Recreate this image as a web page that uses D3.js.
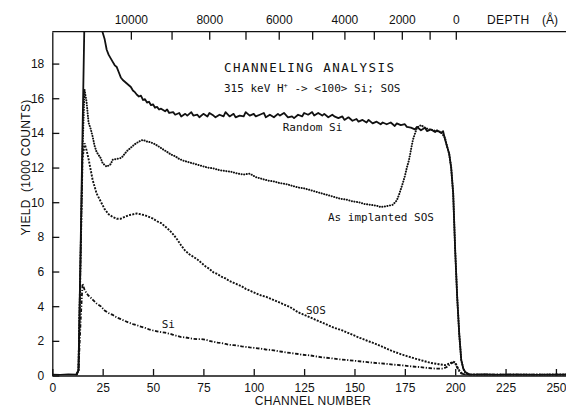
<!DOCTYPE html>
<html>
<head>
<meta charset="utf-8">
<script src="https://cdn.jsdelivr.net/npm/d3@7"></script>
<style>
  body { margin: 0; background: #fff; }
  svg { display: block; }
  text { fill: #111; }
</style>
</head>
<body>
<figure id="chart" style="margin:0"></figure>
<script>
// channel / yield (1000 counts) pairs
const randomSi = [
  [0,0.05],[4,0.04],[8,0.06],[12,0.05],[13,0.3],[14,7.0],[15,14.0],[16,20.8],[18,21.5],[20,21.4],
  [22,20.8],[24,20.0],[25,19.8],[26,19.4],[27,18.8],[28,18.5],[29,18.3],[30,18.1],[31,17.9],[32,17.8],
  [33,17.5],[34,17.2],[35,17.05],[36,16.95],[37,16.85],[38,16.75],[39,16.65],[40,16.45],[41,16.35],
  [42,16.2],[43,16.1],[44,16.15],[45,15.9],[46,15.95],[47,15.75],[48,15.8],[49,15.6],[50,15.65],
  [51,15.45],[52,15.5],[53,15.35],[54,15.4],[56,15.25],[57,15.35],[58,15.15],[60,15.2],[61,15.05],
  [63,15.15],[64,14.95],[66,15.1],[67,15.0],[69,15.2],[70,15.0],[72,15.05],[73,14.9],[75,15.1],
  [77,14.95],[78,15.15],[80,15.0],[81,14.9],[83,15.05],[85,14.95],[86,15.2],[88,14.95],[90,15.1],
  [91,14.9],[93,15.0],[95,14.95],[96,15.2],[98,15.0],[100,15.1],[101,14.95],[103,15.05],[105,15.15],
  [106,14.9],[108,15.05],[110,14.9],[112,15.1],[113,15.0],[115,15.15],[117,14.9],[119,14.95],
  [120,14.85],[122,15.05],[124,14.95],[125,15.15],[127,15.05],[129,15.2],[130,15.0],[132,15.15],
  [134,15.0],[135,15.1],[137,14.9],[139,15.05],[140,14.95],[142,14.85],[144,14.95],[145,14.75],
  [147,14.9],[149,14.7],[151,14.8],[152,14.65],[154,14.75],[156,14.6],[157,14.75],[159,14.55],
  [161,14.65],[163,14.5],[164,14.6],[166,14.5],[168,14.6],[170,14.4],[171,14.55],[173,14.45],
  [175,14.5],[176,14.35],[178,14.3],[180,14.2],[181,14.35],[183,14.15],[185,14.3],[186,14.1],
  [188,14.2],[190,14.05],[191,14.15],[193,14.0],[194,14.1],[195,13.6],[196,13.2],[197,12.8],
  [198,12.0],[199,10.5],[200,7.2],[201,4.5],[202,2.4],[203,0.9],[204,0.4],[205,0.2],[207,0.07],
  [210,0.05],[215,0.06],[220,0.04],[230,0.05],[240,0.04],[250,0.05],[255,0.05]
];

const asImplanted = [
  [12,0.05],[13,0.3],[14,6.5],[15,13.0],[16,16.5],[17,15.8],[18,14.6],[19,14.25],[20,13.8],
  [21,13.25],[22,12.9],[24,12.55],[25,12.25],[27,12.05],[29,12.2],[30,12.45],[32,12.5],[34,12.55],
  [35,12.65],[37,12.95],[39,13.15],[41,13.35],[43,13.5],[45,13.6],[47,13.5],[49,13.45],[51,13.35],
  [53,13.2],[55,13.05],[57,12.9],[59,12.75],[61,12.65],[63,12.5],[65,12.4],[68,12.3],[71,12.2],
  [74,12.1],[77,12.0],[80,11.95],[83,11.85],[86,11.8],[89,11.75],[92,11.65],[95,11.6],[98,11.65],
  [101,11.45],[104,11.35],[107,11.25],[110,11.2],[113,11.1],[116,11.05],[119,10.95],[122,10.85],
  [125,10.8],[128,10.7],[131,10.6],[134,10.5],[137,10.4],[140,10.3],[143,10.2],[146,10.15],
  [149,10.05],[152,10.0],[155,9.9],[158,9.85],[161,9.8],[163,9.72],[165,9.75],[167,9.8],[169,9.85],
  [171,10.1],[172,10.4],[173,10.75],[174,11.1],[175,11.5],[176,12.0],[177,12.4],[178,13.0],
  [179,13.6],[180,13.95],[181,14.3],[183,14.45],[185,14.3],[187,14.2],[189,14.15],[191,14.1],
  [193,14.05],[195,13.7],[196,13.2],[197,12.8],[198,12.0],[199,10.5],[200,7.2],[201,4.5],[202,2.4],
  [203,0.9],[204,0.4],[205,0.15],[207,0.05],[255,0.05]
];

const sos = [
  [12,0.05],[13,0.3],[14,6.5],[15,12.5],[16,13.4],[17,13.0],[18,12.5],[19,11.9],[20,11.3],
  [21,10.9],[22,10.5],[24,10.05],[26,9.6],[28,9.3],[30,9.15],[32,9.05],[34,9.05],[36,9.15],
  [38,9.25],[40,9.3],[42,9.35],[44,9.3],[46,9.25],[48,9.15],[50,9.05],[52,8.9],[54,8.8],[56,8.6],
  [58,8.4],[60,8.15],[62,7.85],[64,7.5],[66,7.2],[68,7.0],[70,6.85],[72,6.7],[74,6.5],[76,6.3],
  [78,6.15],[80,5.95],[82,5.85],[84,5.7],[86,5.6],[88,5.45],[90,5.35],[92,5.25],[94,5.15],
  [96,5.0],[98,4.9],[100,4.8],[102,4.7],[104,4.6],[106,4.55],[108,4.45],[110,4.35],[112,4.25],
  [114,4.15],[116,4.05],[118,3.95],[120,3.8],[122,3.65],[124,3.55],[126,3.45],[128,3.35],
  [130,3.25],[132,3.15],[134,3.05],[136,2.95],[138,2.85],[140,2.75],[144,2.6],[148,2.4],[152,2.2],
  [156,2.02],[160,1.85],[164,1.65],[168,1.45],[172,1.27],[176,1.12],[180,0.98],[184,0.85],
  [188,0.72],[192,0.65],[195,0.6],[197,0.68],[199,0.8],[200,0.75],[201,0.5],[202,0.3],[203,0.15],
  [204,0.08],[206,0.05],[255,0.05]
];

const si = [
  [12,0.05],[13,0.3],[14,3.0],[15,5.3],[16,4.95],[17,4.75],[18,4.6],[19,4.5],[20,4.38],[22,4.15],
  [24,4.0],[26,3.75],[28,3.6],[30,3.5],[32,3.35],[34,3.25],[36,3.15],[38,3.05],[40,2.97],[42,2.9],
  [44,2.82],[46,2.75],[48,2.66],[50,2.6],[52,2.55],[54,2.5],[56,2.47],[58,2.42],[60,2.35],
  [62,2.28],[64,2.22],[66,2.2],[68,2.15],[70,2.12],[72,2.1],[74,2.1],[76,2.07],[78,2.0],[80,1.95],
  [82,1.9],[84,1.87],[86,1.82],[88,1.77],[90,1.75],[92,1.72],[94,1.68],[96,1.65],[98,1.62],
  [100,1.6],[102,1.57],[104,1.54],[106,1.5],[108,1.48],[110,1.45],[112,1.4],[114,1.37],[116,1.33],
  [118,1.3],[120,1.27],[122,1.24],[124,1.2],[126,1.18],[128,1.16],[130,1.12],[134,1.05],[138,1.0],
  [142,0.94],[146,0.9],[150,0.85],[154,0.8],[158,0.75],[162,0.71],[166,0.67],[170,0.62],[174,0.58],
  [178,0.53],[182,0.49],[186,0.44],[190,0.4],[194,0.4],[196,0.5],[198,0.7],[199,0.75],[200,0.7],
  [201,0.45],[202,0.25],[203,0.12],[205,0.05],[255,0.05]
];

// top axis: depth (Å) and the channel it sits on
const depthTicks = [0, 1000, 2000, 3000, 4000, 5000, 6000, 7000, 8000, 9000, 10000];
const depthChannel = [200.3, 187.3, 173.5, 159.6, 145.0, 129.0, 112.4, 95.9, 77.9, 59.2, 39.0];

const channelTicks = [0, 25, 50, 75, 100, 125, 150, 175, 200, 225, 250];
const yieldTicks = [0, 2, 4, 6, 8, 10, 12, 14, 16, 18];

const width = 566, height = 409;
const frame = { left: 52.3, right: 566, top: 31.7, bottom: 375.5 };

const svg = d3.select("figure#chart")
  .append("svg")
  .attr("width", width)
  .attr("height", height);

const x = d3.scaleLinear().domain([0, 255]).range([frame.left, frame.right]);
const y = d3.scaleLinear().domain([0, 19.84]).range([frame.bottom, frame.top]);
const depthX = d3.scaleLinear()
  .domain(depthTicks)
  .range(depthChannel.map(c => x(c)));

svg.append("defs").append("clipPath").attr("id", "plot")
  .append("rect")
  .attr("x", frame.left).attr("y", frame.top)
  .attr("width", frame.right - frame.left).attr("height", frame.bottom - frame.top);

// axes
const tickFont = g => g.selectAll("text")
  .style("font-family", "'Liberation Sans', Arial, sans-serif")
  .style("font-size", "12px")
  .attr("fill", "#111");

svg.append("g")
  .attr("transform", `translate(0,${frame.bottom})`)
  .call(d3.axisBottom(x).tickValues(channelTicks).tickSize(-6.5).tickSizeOuter(0).tickPadding(8))
  .call(tickFont)
  .call(g => g.selectAll("line, path").attr("stroke", "#111").attr("stroke-width", 1.3));

svg.append("g")
  .attr("transform", `translate(${frame.left},0)`)
  .call(d3.axisLeft(y).tickValues(yieldTicks).tickSize(-7).tickSizeOuter(0).tickPadding(8))
  .call(tickFont)
  .call(g => g.selectAll("line, path").attr("stroke", "#111").attr("stroke-width", 1.3));

svg.append("g")
  .attr("transform", `translate(0,${frame.top})`)
  .call(d3.axisTop(depthX).tickValues(depthTicks).tickSize(-8).tickSizeOuter(0).tickPadding(8)
    .tickFormat(d => d % 2000 === 0 ? d : ""))
  .call(tickFont)
  .call(g => g.select(".domain").remove())
  .call(g => g.selectAll("line").attr("stroke", "#111").attr("stroke-width", 1.3));

// top frame line
svg.append("line")
  .attr("x1", frame.left).attr("x2", frame.right)
  .attr("y1", frame.top).attr("y2", frame.top)
  .attr("stroke", "#111").attr("stroke-width", 1.3);

// curves
const line = d3.line().x(d => x(d[0])).y(d => y(d[1]));
const plot = svg.append("g").attr("clip-path", "url(#plot)");

plot.append("path").datum(si)
  .attr("d", line).attr("fill", "none").attr("stroke", "#111")
  .attr("stroke-width", 1.8).attr("stroke-dasharray", "3.5,1.6,1.2,1.6");

plot.append("path").datum(sos)
  .attr("d", line).attr("fill", "none").attr("stroke", "#111")
  .attr("stroke-width", 1.9).attr("stroke-dasharray", "2,1.3");

plot.append("path").datum(asImplanted)
  .attr("d", line).attr("fill", "none").attr("stroke", "#111")
  .attr("stroke-width", 2).attr("stroke-linecap", "round").attr("stroke-dasharray", "0.1,2.5");

plot.append("path").datum(randomSi)
  .attr("d", line).attr("fill", "none").attr("stroke", "#111")
  .attr("stroke-width", 1.8).attr("stroke-linejoin", "round");

// labels
const mono = "'DejaVu Sans Mono', monospace";
const sans = "'Liberation Sans', Arial, sans-serif";

svg.append("text").text("DEPTH")
  .attr("x", 487).attr("y", 24)
  .style("font-family", sans).style("font-size", "12px").style("letter-spacing", "0.4px");
svg.append("text").text("(Å)")
  .attr("x", 558).attr("y", 24).attr("text-anchor", "end")
  .style("font-family", sans).style("font-size", "12px");

svg.append("text").text("CHANNEL NUMBER")
  .attr("x", 313).attr("y", 405).attr("text-anchor", "middle")
  .style("font-family", sans).style("font-size", "12px").style("letter-spacing", "0.3px");

svg.append("text").text("YIELD\u00A0\u00A0(1000 COUNTS)")
  .attr("transform", "translate(30,167.5) rotate(-90)")
  .attr("text-anchor", "middle")
  .style("font-family", sans).style("font-size", "12px").style("letter-spacing", "0.3px");

svg.append("text").text("CHANNELING ANALYSIS")
  .attr("x", 224).attr("y", 71.5)
  .style("font-family", mono).style("font-size", "12.5px").style("letter-spacing", "1.5px");

const sub = svg.append("text")
  .attr("x", 224).attr("y", 92)
  .style("font-family", mono).style("font-size", "11px");
sub.append("tspan").text("315 keV H");
sub.append("tspan").text("+").attr("dy", -4).style("font-size", "7px");
sub.append("tspan").text(" -> <100> Si; SOS").attr("dy", 4);

const curveLabels = [
  { text: "Random Si", x: 282.7, y: 130.5 },
  { text: "As implanted SOS", x: 328, y: 220.5 },
  { text: "SOS", x: 306, y: 314 },
  { text: "Si", x: 161.7, y: 328 }
];
svg.selectAll("text.curve")
  .data(curveLabels)
  .enter()
  .append("text")
  .attr("class", "curve")
  .attr("x", d => d.x).attr("y", d => d.y)
  .style("font-family", mono).style("font-size", "11px")
  .text(d => d.text);
</script>
</body>
</html>
